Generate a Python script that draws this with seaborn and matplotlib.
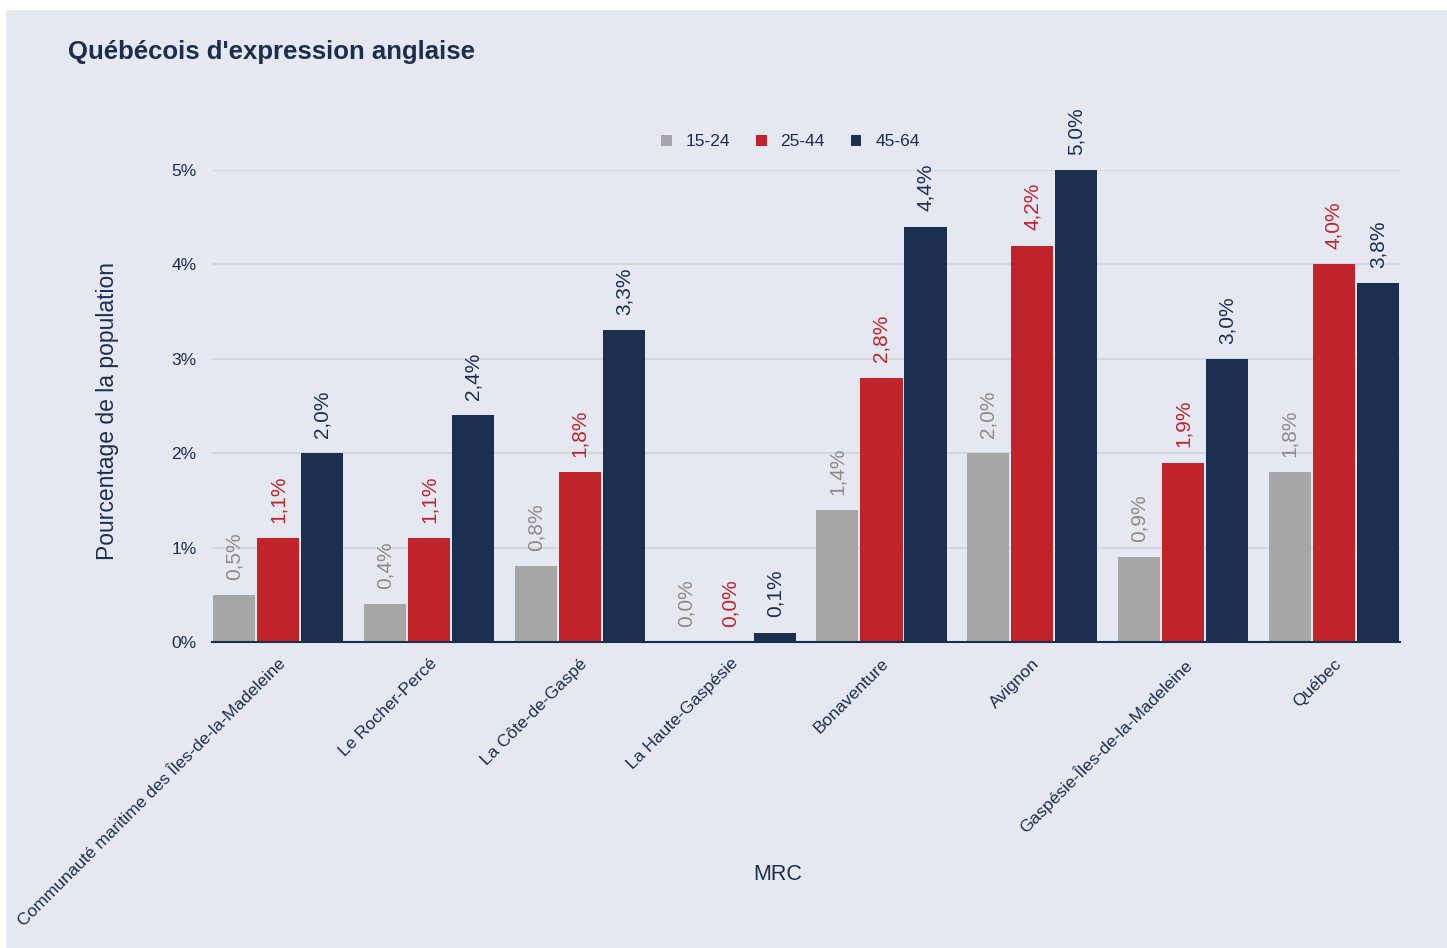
import pandas as pd
import seaborn as sns
import matplotlib.pyplot as plt
from matplotlib.patches import Rectangle
from matplotlib.ticker import FuncFormatter

# Données
mrc = ["Communauté maritime des Îles-de-la-Madeleine", "Le Rocher-Percé", "La Côte-de-Gaspé",
       "La Haute-Gaspésie", "Bonaventure", "Avignon", "Gaspésie-Îles-de-la-Madeleine", "Québec"]
groupes = ["15-24", "25-44", "45-64"]
age_15_24 = [0.5, 0.4, 0.8, 0.0, 1.4, 2.0, 0.9, 1.8]
age_25_44 = [1.1, 1.1, 1.8, 0.0, 2.8, 4.2, 1.9, 4.0]
age_45_64 = [2.0, 2.4, 3.3, 0.1, 4.4, 5.0, 3.0, 3.8]

couleurs = ["#a6a6a6", "#c1232b", "#1b2f50"]
couleurs_texte = ["#8c8c8c", "#c1232b", "#1b2f50"]
bg = "#e5e8f0"
navy = "#1c2e4e"

df = pd.DataFrame({
    "MRC": mrc * 3,
    "groupe": [g for g in groupes for _ in mrc],
    "valeur": age_15_24 + age_25_44 + age_45_64,
})

sns.set_theme(style="white")
plt.rcParams["font.family"] = ["Liberation Sans", "DejaVu Sans"]

fig = plt.figure(figsize=(14.47, 9.48), dpi=100, facecolor="white")
# fond gris-bleu avec petite marge blanche en haut et à gauche
fig.patches.append(Rectangle((6 / 1447, 0), 1, 1 - 10 / 948, transform=fig.transFigure,
                             facecolor=bg, edgecolor="none", zorder=-10))
ax = fig.add_axes([212 / 1447, 1 - 642 / 948, 1188 / 1447, 472 / 948])
ax.set_facecolor(bg)

w = 0.877
sns.barplot(data=df, x="MRC", y="valeur", hue="groupe", order=mrc, hue_order=groupes,
            palette=couleurs, width=w, gap=0.04, saturation=1, ax=ax, legend=True,
            edgecolor="none")

for cont, col in zip(ax.containers, couleurs_texte):
    labels = [f"{b.get_height():.1f}%".replace(".", ",") for b in cont]
    ax.bar_label(cont, labels=labels, rotation=90, padding=11, color=col, fontsize=15)

ax.set_ylim(0, 5)
ax.set_xlim(-w / 2, 7 + w / 2)
ax.yaxis.set_major_formatter(FuncFormatter(lambda v, p: f"{v:.0f}%"))
ax.set_yticks([0, 1, 2, 3, 4, 5])
ax.grid(axis="y", color="#d0d4dc", linewidth=1.2)
ax.set_axisbelow(True)
for s in ["top", "right", "left"]:
    ax.spines[s].set_visible(False)
ax.spines["bottom"].set_color(navy)
ax.spines["bottom"].set_linewidth(1.5)
ax.tick_params(axis="y", colors=navy, labelsize=12.5, length=0, pad=11)
ax.tick_params(axis="x", colors=navy, labelsize=12.5, length=0, pad=10)
plt.setp(ax.get_xticklabels(), rotation=45, ha="right", rotation_mode="anchor")

ax.set_xlabel("MRC", fontsize=15.5, color=navy, labelpad=0)
ax.xaxis.set_label_coords(0.476, -0.47)
ax.set_ylabel("Pourcentage de la population", fontsize=16.5, color=navy, labelpad=0)
ax.yaxis.set_label_coords(-0.078, 0.49)

leg = ax.legend(loc="center", bbox_to_anchor=(0.487, 1.06), ncol=3, frameon=False,
                fontsize=12.5, handlelength=0.6, handleheight=0.6, columnspacing=1.5,
                handletextpad=0.8, labelcolor=navy)

fig.text(68 / 1447, 1 - 52 / 948, "Québécois d'expression anglaise", fontsize=18.5,
         fontweight="bold", color=navy, va="center", ha="left")

fig.savefig("out.png", dpi=100, facecolor=fig.get_facecolor())
